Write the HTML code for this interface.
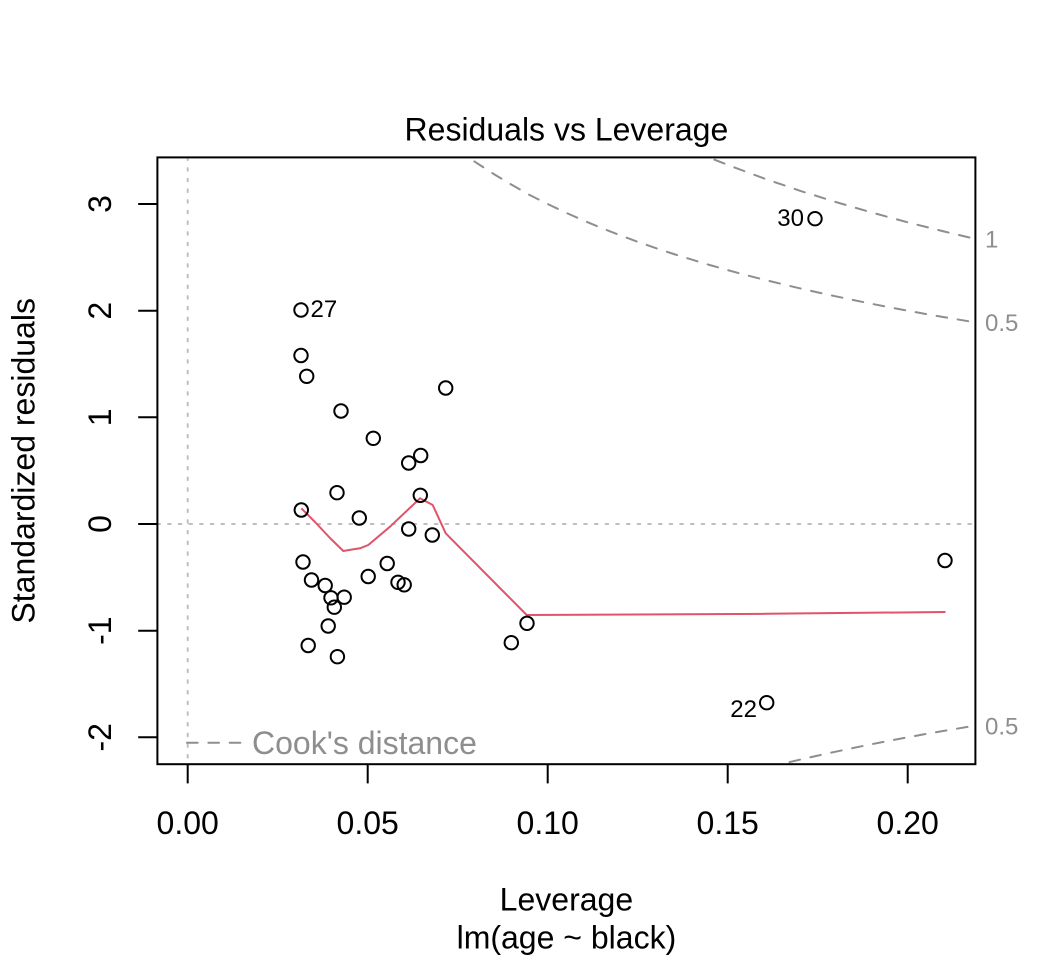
<!DOCTYPE html>
<html>
<head>
<meta charset="utf-8">
<style>
html,body{margin:0;padding:0;background:#fff;}
svg{display:block;}
text{font-family:"Liberation Sans",Arial,Helvetica,sans-serif;}
</style>
</head>
<body>
<svg width="1056" height="960" viewBox="0 0 1056 960" xmlns="http://www.w3.org/2000/svg">
<rect x="0" y="0" width="1056" height="960" fill="#fff"/>
<defs>
<clipPath id="pc"><rect x="157.4" y="157.4" width="818" height="606.8"/></clipPath>
</defs>

<!-- reference dotted lines -->
<g clip-path="url(#pc)" stroke="#BEBEBE" stroke-width="2" stroke-dasharray="2.67 8" stroke-linecap="round" fill="none">
<line x1="187.7" y1="157.4" x2="187.7" y2="764.2"/>
<line x1="157.4" y1="524" x2="975.4" y2="524"/>
</g>

<!-- Cook's distance contours -->
<g clip-path="url(#pc)" stroke="#8e8e8e" stroke-width="2" stroke-dasharray="10.67 10.67" stroke-linecap="round" fill="none">
<polyline points="700,145 708.6,157.3 727.7,164.9 763.7,178.35 799.7,190.67 835.7,202 871.7,212.5 907.7,222.3 943.7,231.4 975.4,238.9"/>
<polyline points="460,146 468.5,157.3 475.7,162.3 493.7,174 511.7,184.8 529.7,195 547.7,204 565.7,212.6 583.7,220.6 601.7,228.1 619.7,235.1 637.7,241.8 655.7,248.1 673.7,254 691.7,259.6 709.7,265 727.7,270.1 745.7,275 763.7,279.6 781.7,284 799.7,288.3 817.7,292.4 835.7,296.3 853.7,300.1 871.7,303.8 889.7,307.3 907.7,310.7 925.7,314 943.7,317.1 975.4,322.4"/>
<polyline points="770,770 780.7,764.2 799.7,759.7 817.7,755.6 835.7,751.7 853.7,747.9 871.7,744.2 889.7,740.7 907.7,737.3 925.7,734 943.7,730.9 975.4,725.6"/>
</g>

<!-- smoother -->
<polyline fill="none" stroke="#DF536B" stroke-width="2" stroke-linejoin="round" points="301.3,508.3 315,522 330,538 343.3,551 352,549.5 360,548.3 368.3,545 390,526.7 420,498.3 432.7,505 445.7,533.3 526.7,615 766,613.8 815,613.3 945.5,612"/>

<!-- points -->
<g fill="none" stroke="#000" stroke-width="2">
<circle cx="301" cy="310" r="6.7"/>
<circle cx="301" cy="355.5" r="6.7"/>
<circle cx="306.7" cy="376.3" r="6.7"/>
<circle cx="341" cy="411" r="6.7"/>
<circle cx="373.3" cy="438.3" r="6.7"/>
<circle cx="445.7" cy="388" r="6.7"/>
<circle cx="420.7" cy="455.5" r="6.7"/>
<circle cx="408.7" cy="463" r="6.7"/>
<circle cx="337" cy="492.7" r="6.7"/>
<circle cx="420.3" cy="495.3" r="6.7"/>
<circle cx="301.3" cy="510" r="6.7"/>
<circle cx="359.3" cy="518" r="6.7"/>
<circle cx="408.7" cy="529" r="6.7"/>
<circle cx="432.3" cy="535" r="6.7"/>
<circle cx="303" cy="562" r="6.7"/>
<circle cx="387.2" cy="563.5" r="6.7"/>
<circle cx="368.2" cy="576.5" r="6.7"/>
<circle cx="311.5" cy="580" r="6.7"/>
<circle cx="325.2" cy="585.5" r="6.7"/>
<circle cx="398" cy="582.3" r="6.7"/>
<circle cx="404.2" cy="584.8" r="6.7"/>
<circle cx="331" cy="597.8" r="6.7"/>
<circle cx="344.2" cy="597.2" r="6.7"/>
<circle cx="334.3" cy="607.2" r="6.7"/>
<circle cx="328.2" cy="626" r="6.7"/>
<circle cx="308.2" cy="645.5" r="6.7"/>
<circle cx="337.4" cy="656.7" r="6.7"/>
<circle cx="511.3" cy="642.7" r="6.7"/>
<circle cx="527" cy="623.3" r="6.7"/>
<circle cx="945" cy="560.5" r="6.7"/>
<circle cx="766.7" cy="702.7" r="6.7"/>
<circle cx="815" cy="218.7" r="6.7"/>
</g>

<!-- point labels -->
<g font-size="24" fill="#000">
<text x="310.5" y="317">27</text>
<text x="804" y="226" text-anchor="end">30</text>
<text x="757" y="717" text-anchor="end">22</text>
</g>

<!-- box -->
<rect x="157.4" y="157.4" width="818" height="606.8" fill="none" stroke="#000" stroke-width="2"/>

<!-- x axis ticks -->
<g stroke="#000" stroke-width="2">
<line x1="187.7" y1="764.2" x2="187.7" y2="783.4"/>
<line x1="367.7" y1="764.2" x2="367.7" y2="783.4"/>
<line x1="547.7" y1="764.2" x2="547.7" y2="783.4"/>
<line x1="727.7" y1="764.2" x2="727.7" y2="783.4"/>
<line x1="907.7" y1="764.2" x2="907.7" y2="783.4"/>
<!-- y axis ticks -->
<line x1="157.4" y1="737.3" x2="138.2" y2="737.3"/>
<line x1="157.4" y1="630.7" x2="138.2" y2="630.7"/>
<line x1="157.4" y1="524" x2="138.2" y2="524"/>
<line x1="157.4" y1="417.3" x2="138.2" y2="417.3"/>
<line x1="157.4" y1="310.7" x2="138.2" y2="310.7"/>
<line x1="157.4" y1="204" x2="138.2" y2="204"/>
</g>

<!-- x tick labels -->
<g font-size="32" fill="#000" text-anchor="middle">
<text x="187.7" y="834">0.00</text>
<text x="367.7" y="834">0.05</text>
<text x="547.7" y="834">0.10</text>
<text x="727.7" y="834">0.15</text>
<text x="907.7" y="834">0.20</text>
</g>

<!-- y tick labels -->
<g font-size="32" fill="#000" text-anchor="middle">
<text transform="translate(111,737.3) rotate(-90)">-2</text>
<text transform="translate(111,630.7) rotate(-90)">-1</text>
<text transform="translate(111,524) rotate(-90)">0</text>
<text transform="translate(111,417.3) rotate(-90)">1</text>
<text transform="translate(111,310.7) rotate(-90)">2</text>
<text transform="translate(111,204) rotate(-90)">3</text>
</g>

<!-- right cook labels -->
<g font-size="24" fill="#8e8e8e">
<text x="985" y="247.3">1</text>
<text x="985" y="331">0.5</text>
<text x="985" y="734.3">0.5</text>
</g>

<!-- legend -->
<line x1="187" y1="742.8" x2="241" y2="742.8" stroke="#8e8e8e" stroke-width="2" stroke-dasharray="10.67 10.67" stroke-linecap="round"/>
<text x="252" y="754" font-size="32" fill="#8e8e8e">Cook's distance</text>

<!-- titles -->
<text x="566.4" y="140.3" font-size="32" fill="#000" text-anchor="middle">Residuals vs Leverage</text>
<text x="566.4" y="910.3" font-size="32" fill="#000" text-anchor="middle">Leverage</text>
<text x="566.4" y="948.7" font-size="32" fill="#000" text-anchor="middle">lm(age ~ black)</text>
<text transform="translate(34.5,460.8) rotate(-90)" font-size="32" fill="#000" text-anchor="middle">Standardized residuals</text>
</svg>
</body>
</html>
